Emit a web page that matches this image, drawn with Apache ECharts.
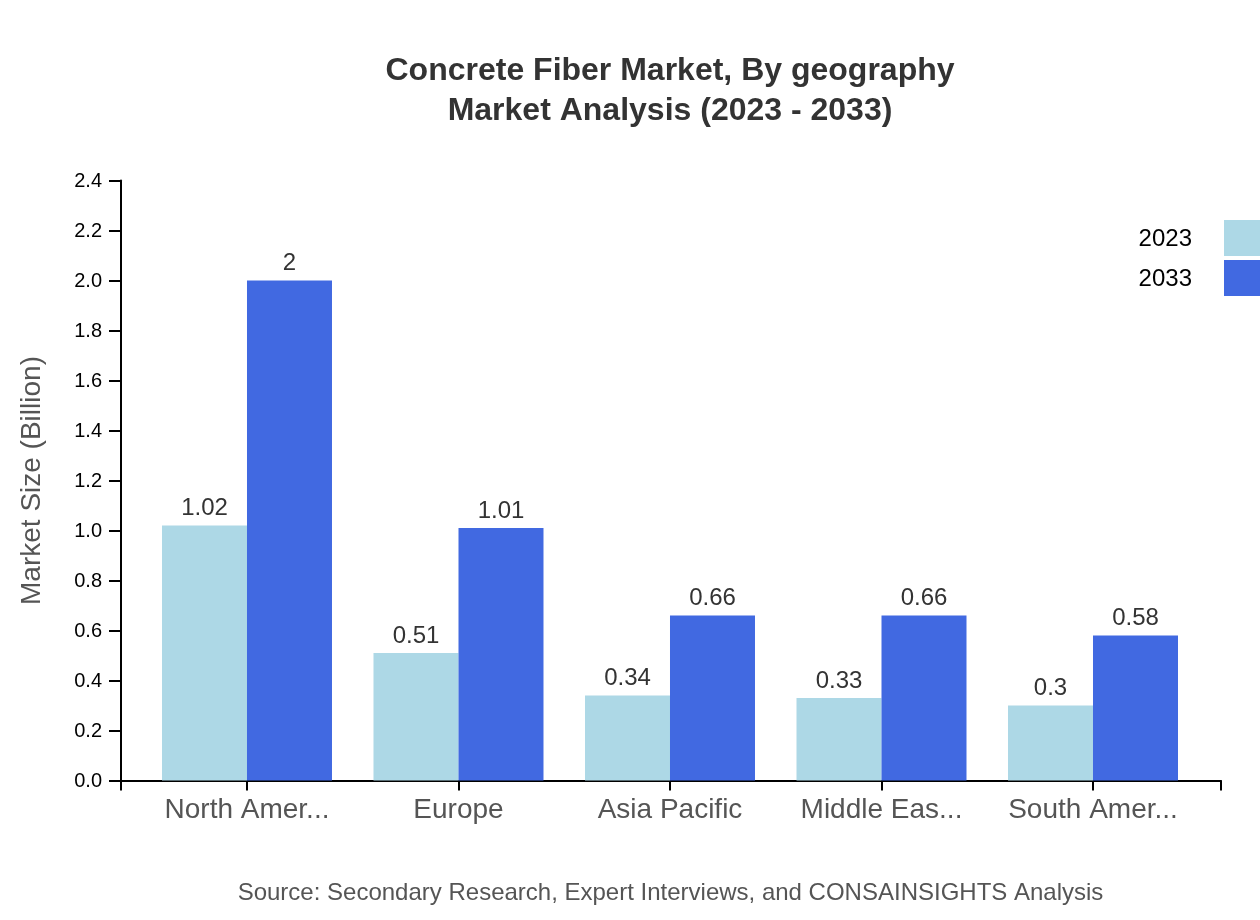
<!DOCTYPE html>
<html>
<head>
<meta charset="utf-8">
<title>Concrete Fiber Market</title>
<script src="https://cdn.jsdelivr.net/npm/echarts@6/dist/echarts.min.js"></script>
<style>
html, body { margin: 0; padding: 0; background: #fff; }
#chart { width: 1260px; height: 920px; }
</style>
</head>
<body>
<div id="chart"></div>
<script>
var categories = ['North Amer...', 'Europe', 'Asia Pacific', 'Middle Eas...', 'South Amer...'];
var values2023 = [1.02, 0.51, 0.34, 0.33, 0.3];
var values2033 = [2, 1.01, 0.66, 0.66, 0.58];

var FONT = '"Liberation Sans", Arial, sans-serif';

// x axis runs past the first and last band, so it is a value axis with the
// categories sitting on 0..4
var xMin = -0.5957;
var xMax = 4.6052;

function points(values) {
    return values.map(function (v, i) { return [i, v]; });
}

function barSeries(name, values, color) {
    return {
        name: name,
        type: 'bar',
        data: points(values),
        barWidth: 85,
        barGap: 0,
        itemStyle: { color: color },
        label: {
            show: true,
            position: 'top',
            distance: 5,
            color: '#333',
            fontFamily: FONT,
            fontSize: 24,
            formatter: function (p) { return String(p.value[1]); }
        }
    };
}

var chart = echarts.init(document.getElementById('chart'));
var option = {
    animation: false,
    backgroundColor: '#fff',
    title: [
        {
            text: 'Concrete Fiber Market, By geography\nMarket Analysis (2023 - 2033)',
            left: 665,
            top: 46,
            textAlign: 'center',
            textStyle: { color: '#333', fontFamily: FONT, fontSize: 32, fontWeight: 'bold', lineHeight: 40 }
        },
        {
            text: 'Source: Secondary Research, Expert Interviews, and CONSAINSIGHTS Analysis',
            left: 665.5,
            top: 876,
            textAlign: 'center',
            textStyle: { color: '#555', fontFamily: FONT, fontSize: 24, fontWeight: 'normal' }
        }
    ],
    legend: {
        right: 0,
        top: 220,
        orient: 'vertical',
        align: 'right',
        padding: 0,
        icon: 'rect',
        itemWidth: 36,
        itemHeight: 36,
        itemGap: 4,
        formatter: '{a|{name}}',
        textStyle: {
            color: '#000',
            fontFamily: FONT,
            fontSize: 24,
            padding: [0, 27, 0, 0],
            rich: { a: { color: '#000', fontFamily: FONT, fontSize: 24, padding: [2, 0, 0, 0] } }
        },
        data: ['2023', '2033']
    },
    grid: { left: 121, top: 180.5, width: 1100, height: 600 },
    xAxis: {
        type: 'value',
        min: xMin,
        max: xMax,
        splitLine: { show: false },
        axisLine: { show: true, onZero: false, lineStyle: { color: '#000', width: 2 } },
        axisTick: {
            show: true,
            length: 10,
            lineStyle: { color: '#000', width: 2 },
            customValues: [xMin, 0, 1, 2, 3, 4, xMax]
        },
        axisLabel: {
            color: '#555',
            fontFamily: FONT,
            fontSize: 28,
            margin: 16,
            customValues: [0, 1, 2, 3, 4],
            formatter: function (v) { return categories[v]; }
        }
    },
    yAxis: {
        type: 'value',
        min: 0,
        max: 2.4,
        interval: 0.2,
        name: 'Market Size (Billion)',
        nameLocation: 'middle',
        nameGap: 75,
        nameTextStyle: { color: '#555', fontFamily: FONT, fontSize: 28 },
        splitLine: { show: false },
        axisLine: { show: true, onZero: false, lineStyle: { color: '#000', width: 2 } },
        axisTick: { show: true, length: 12, lineStyle: { color: '#000', width: 2 } },
        axisLabel: {
            color: '#000',
            fontFamily: FONT,
            fontSize: 20,
            margin: 19,
            formatter: function (v) { return '{a|' + v.toFixed(1) + '}'; },
            rich: { a: { color: '#000', fontFamily: FONT, fontSize: 20, padding: [2, 0, 0, 0] } }
        }
    },
    series: [
        barSeries('2023', values2023, '#add8e6'),
        barSeries('2033', values2033, '#4169e1')
    ]
};
chart.setOption(option);
</script>
</body>
</html>
